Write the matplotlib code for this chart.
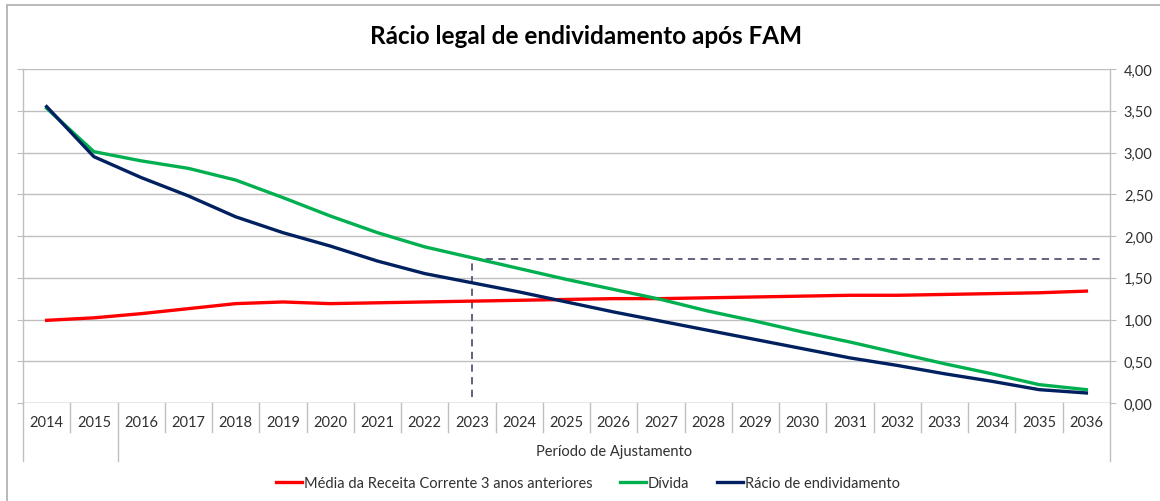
import matplotlib
matplotlib.use("Agg")
import matplotlib.pyplot as plt
from matplotlib.transforms import blended_transform_factory
from matplotlib.patches import Rectangle
from matplotlib.ticker import FuncFormatter, MultipleLocator

plt.rcParams['font.family'] = ['Lato', 'DejaVu Sans']

years = [str(y) for y in range(2014, 2037)]
media_receita = [0.99, 1.02, 1.07, 1.13, 1.19, 1.21, 1.19, 1.20, 1.21, 1.22, 1.23, 1.24,
                 1.25, 1.25, 1.26, 1.27, 1.28, 1.29, 1.29, 1.30, 1.31, 1.32, 1.34]
divida = [3.53, 3.01, 2.90, 2.81, 2.67, 2.46, 2.24, 2.04, 1.87, 1.74, 1.61, 1.48,
          1.36, 1.24, 1.10, 0.98, 0.85, 0.73, 0.60, 0.47, 0.35, 0.22, 0.16]
racio = [3.55, 2.95, 2.70, 2.48, 2.23, 2.04, 1.88, 1.70, 1.55, 1.44, 1.33, 1.21,
         1.09, 0.98, 0.87, 0.76, 0.65, 0.54, 0.45, 0.35, 0.26, 0.16, 0.12]
limit_year_idx = 9      # 2023
limit_value = 1.73
limit_bottom = 0.07
group_label = "Período de Ajustamento"
group_start, group_end = 2, 22   # 2016..2036

W, H = 1160, 502
fig = plt.figure(figsize=(W / 100, H / 100), dpi=100)
L, R, B, T = 23, 1110, 404, 70
ax = fig.add_axes([L / W, 1 - B / H, (R - L) / W, (B - T) / H])
ax_h = B - T

x = list(range(len(years)))
lw = 2.4
ax.plot(x, media_receita, color='#FF0000', lw=lw, label='Média da Receita Corrente 3 anos anteriores', zorder=3)
ax.plot(x, divida, color='#00B050', lw=lw, label='Dívida', zorder=3)
ax.plot(x, racio, color='#002060', lw=lw, label='Rácio de endividamento', zorder=4)

# dashed limit line
dash_col = '#5B5476'
ax.plot([limit_year_idx, limit_year_idx, 22.4], [limit_bottom, limit_value, limit_value],
        color=dash_col, lw=1.3, ls=(0, (4, 3)), zorder=2)

ax.set_xlim(-0.5, len(years) - 0.5)
ax.set_ylim(0, 4)
ax.yaxis.set_major_locator(MultipleLocator(0.5))
ax.yaxis.grid(True, color='#BFBFBF', lw=1.0, zorder=0)
ax.set_axisbelow(True)

for s in ['top', 'bottom']:
    ax.spines[s].set_visible(False)
ax.spines['left'].set_color('#BFBFBF')
ax.spines['right'].set_color('#BFBFBF')
ax.spines['left'].set_linewidth(1.0)
ax.spines['right'].set_linewidth(1.0)

ax.tick_params(axis='y', which='both', left=True, right=True, labelleft=False, labelright=True,
               length=4, color='#BFBFBF', labelsize=10.5, labelcolor='#303030', pad=6)
ax.yaxis.set_major_formatter(FuncFormatter(lambda v, p: f"{v:.2f}".replace('.', ',')))
ax.set_xticks([])

# bottom axis line
ax.axhline(0, color='#BFBFBF', lw=1.0, zorder=1)

trans = blended_transform_factory(ax.transData, ax.transAxes)
short = 29 / ax_h
long_ = 58 / ax_h
for k in range(len(years) + 1):
    xp = k - 0.5
    ln = long_ if k in (0, group_start, len(years)) else short
    ax.plot([xp, xp], [0, -ln], transform=trans, color='#BFBFBF', lw=1.0, clip_on=False)
for i, y in enumerate(years):
    ax.text(i, -19 / ax_h, y, transform=trans, ha='center', va='center', fontsize=10.5, color='#303030')
ax.text((group_start + group_end) / 2, -48 / ax_h, group_label, transform=trans,
        ha='center', va='center', fontsize=10.5, color='#303030')

# title
fig.text(586 / W, 1 - 37 / H, 'Rácio legal de endividamento após FAM', ha='center', va='center',
         fontsize=17.5, fontweight='bold', color='black')

# legend
leg = fig.legend(loc='center', bbox_to_anchor=(588 / W, 1 - 484 / H), ncol=3, frameon=False,
                 fontsize=10.5, handlelength=1.75, handletextpad=0.15, columnspacing=1.9)
for t in leg.get_texts():
    t.set_color('#303030')

# outer frame
fig.add_artist(Rectangle((7 / W, -0.05), 1.1, 1 - 6 / H + 0.05, transform=fig.transFigure,
                         fill=False, edgecolor='#ADADAD', lw=1.2, clip_on=False))

fig.savefig('out.png', dpi=100)
